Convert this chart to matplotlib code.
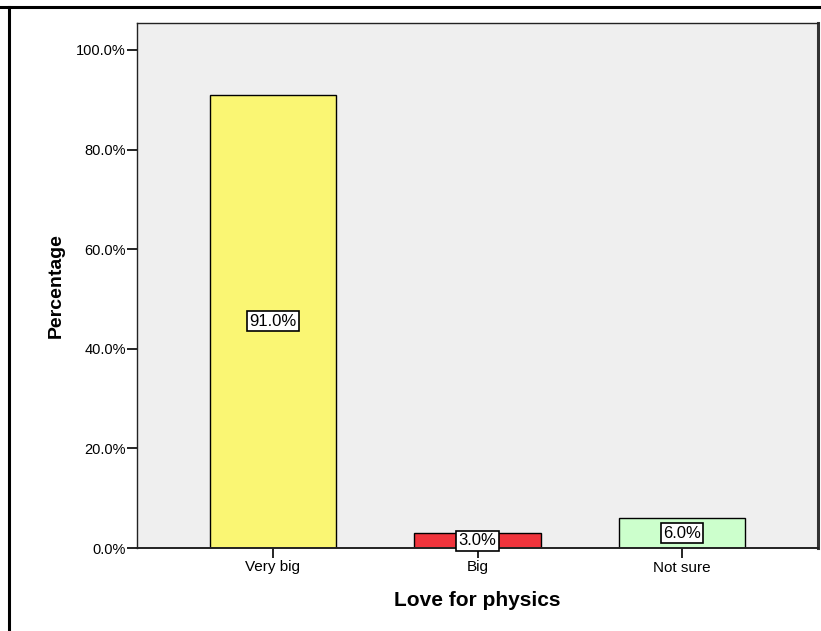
import matplotlib
matplotlib.use("Agg")
import matplotlib.pyplot as plt
from matplotlib.lines import Line2D
from matplotlib.ticker import FuncFormatter

plt.rcParams['font.family'] = ['Liberation Sans', 'DejaVu Sans']

categories = ["Very big", "Big", "Not sure"]
percentages = [91.0, 3.0, 6.0]
bar_colors = ["#FAF673", "#F0343C", "#CCFFCC"]
y_ticks = [0, 20, 40, 60, 80, 100]

fig = plt.figure(figsize=(8.21, 6.31), dpi=100)
ax = fig.add_axes([137 / 821, 1 - 548 / 631, (818 - 137) / 821, (548 - 23) / 631])
ax.set_facecolor("#EFEFEF")

x = list(range(len(categories)))
bars = ax.bar(x, percentages, width=0.62, color=bar_colors,
              edgecolor="black", linewidth=1.0, zorder=2)

for xi, v in zip(x, percentages):
    ax.text(xi, v / 2, f"{v:.1f}%", ha="center", va="center", fontsize=12,
            zorder=3,
            bbox=dict(boxstyle="square,pad=0.15", facecolor="white",
                      edgecolor="black", linewidth=1.2))

ax.set_xlim(-0.665, 2.665)
ax.set_ylim(0, 105.4)
ax.set_xticks(x)
ax.set_xticklabels(categories, fontsize=11)
ax.set_yticks(y_ticks)
ax.yaxis.set_major_formatter(FuncFormatter(lambda v, p: f"{v:.1f}%"))
ax.tick_params(axis="y", labelsize=10.5, length=7, width=1.2, direction="out", pad=1)
ax.tick_params(axis="x", length=7, width=1.2, direction="out", pad=2)

for side in ["left", "top", "bottom"]:
    ax.spines[side].set_color("#222222")
    ax.spines[side].set_linewidth(1.0)
ax.spines["bottom"].set_linewidth(1.4)
ax.spines["right"].set_color("#333333")
ax.spines["right"].set_linewidth(2.2)

ax.set_ylabel("Percentage", fontsize=14, fontweight="bold", labelpad=8)
ax.set_xlabel("Love for physics", fontsize=15, fontweight="bold", labelpad=12)

# outer frame (top and left edges)
fig.add_artist(Line2D([0, 1], [1 - 7 / 631, 1 - 7 / 631], transform=fig.transFigure,
                      color="black", linewidth=2.2))
fig.add_artist(Line2D([9 / 821, 9 / 821], [0, 1 - 7 / 631], transform=fig.transFigure,
                      color="black", linewidth=2.2))

fig.savefig("out.png", dpi=100)
